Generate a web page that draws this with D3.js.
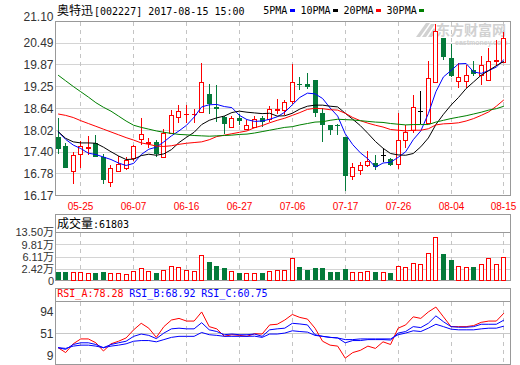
<!DOCTYPE html>
<html><head><meta charset="utf-8">
<script src="https://cdn.jsdelivr.net/npm/d3@7"></script>
<style>
html,body{margin:0;padding:0;background:#fff;}
svg{display:block;}
</style></head><body>
<svg id="c" width="520" height="365"></svg>
<script>
// ---------------- data ----------------
const dates = ["05-22","05-23","05-24","05-25","05-26","05-31","06-01","06-02","06-05","06-06",
 "06-07","06-08","06-09","06-12","06-13","06-14","06-15","06-16","06-19","06-20",
 "06-21","06-22","06-23","06-26","06-27","06-28","06-29","06-30","07-03","07-04",
 "07-05","07-06","07-07","07-10","07-11","07-12","07-13","07-14","07-17","07-18",
 "07-19","07-20","07-21","07-24","07-25","07-26","07-27","07-28","07-31","08-01",
 "08-02","08-03","08-04","08-07","08-08","08-09","08-10","08-11","08-14","08-15"];
const open = [17.82,17.57,16.86,17.36,17.52,17.65,17.27,16.54,16.87,16.96,
 17.22,17.76,17.67,17.69,17.27,17.93,18.40,18.47,18.47,18.53,
 19.05,18.69,18.40,18.12,18.37,18.05,18.12,18.38,18.33,18.60,
 18.59,18.85,19.33,19.33,19.44,18.51,18.17,18.17,17.83,16.72,
 16.90,17.04,17.09,17.32,17.20,17.07,17.75,18.03,18.57,18.22,
 19.39,20.64,20.07,19.41,19.41,19.74,19.59,19.44,19.98,19.95];
const high = [18.36,17.65,17.41,17.72,17.85,17.88,17.36,17.03,17.29,17.25,
 17.60,18.36,17.79,17.73,18.05,18.59,18.73,18.73,18.62,19.92,
 19.32,19.30,18.42,18.42,18.48,18.31,18.42,18.42,18.71,18.90,
 18.88,19.90,19.52,19.63,19.45,18.64,18.17,18.21,17.84,17.09,
 17.12,17.44,17.32,17.49,17.23,18.51,18.16,19.01,19.14,19.99,
 21.03,20.64,20.45,19.93,19.88,19.99,20.12,20.35,20.58,20.80];
const low = [17.36,16.94,16.49,16.95,17.31,17.26,16.51,16.41,16.86,16.89,
 17.15,17.60,17.53,17.27,17.22,17.90,18.22,18.22,18.23,18.51,
 18.48,18.26,17.91,18.08,18.17,18.04,18.10,18.12,18.26,18.48,
 18.45,18.76,19.16,19.20,18.40,17.69,17.88,17.88,16.30,16.60,
 16.74,16.99,16.90,17.12,17.00,16.93,17.53,17.94,18.19,18.22,
 19.38,20.02,19.54,19.22,19.22,19.55,19.31,19.41,19.83,19.94];
const close = [17.48,16.96,17.31,17.57,17.54,17.27,16.62,16.94,17.06,17.19,
 17.57,17.91,17.69,17.34,17.93,18.45,18.57,18.49,18.49,19.38,
 18.76,18.61,18.19,18.36,18.29,18.16,18.35,18.26,18.61,18.62,
 18.81,19.38,19.31,19.24,18.51,18.17,18.04,18.15,16.72,16.97,
 17.04,17.15,16.99,17.32,17.04,17.73,17.97,18.67,18.57,19.50,
 20.83,20.09,19.55,19.52,19.58,19.61,19.88,19.97,20.00,20.62];
const ma5 = [17.98,17.76,17.60,17.50,17.37,17.33,17.26,17.19,17.09,17.02,
 17.08,17.33,17.48,17.54,17.69,17.86,18.00,18.16,18.39,18.68,
 18.74,18.75,18.69,18.66,18.44,18.32,18.27,18.28,18.33,18.40,
 18.53,18.74,18.95,19.07,19.05,18.92,18.65,18.42,17.92,17.61,
 17.38,17.21,16.97,17.09,17.11,17.25,17.41,17.75,18.00,18.49,
 19.11,19.53,19.71,19.90,19.91,19.67,19.63,19.71,19.81,20.02];
const ma10 = [17.98,17.79,17.69,17.66,17.66,17.65,17.54,17.41,17.29,17.19,
 17.20,17.30,17.34,17.31,17.35,17.47,17.67,17.82,17.96,18.18,
 18.30,18.37,18.42,18.52,18.56,18.53,18.51,18.49,18.50,18.42,
 18.43,18.50,18.62,18.70,18.73,18.73,18.70,18.68,18.50,18.33,
 18.15,17.93,17.70,17.51,17.36,17.32,17.31,17.36,17.55,17.80,
 18.18,18.47,18.73,18.95,19.20,19.39,19.58,19.71,19.85,19.97];
const ma20 = [18.48,18.44,18.38,18.29,18.21,18.13,18.05,17.97,17.89,17.81,
 17.74,17.66,17.62,17.57,17.56,17.58,17.62,17.65,17.67,17.69,
 17.75,17.84,17.88,17.92,17.96,18.00,18.09,18.15,18.23,18.30,
 18.36,18.44,18.52,18.61,18.64,18.63,18.60,18.59,18.50,18.38,
 18.29,18.22,18.16,18.11,18.04,18.02,18.00,18.02,18.02,18.06,
 18.17,18.20,18.21,18.23,18.28,18.35,18.44,18.54,18.70,18.88];
const ma30 = [19.58,19.42,19.26,19.11,18.96,18.80,18.67,18.56,18.42,18.28,
 18.16,18.10,18.05,18.00,17.96,17.93,17.90,17.89,17.87,17.86,
 17.85,17.86,17.87,17.88,17.90,17.91,17.94,17.98,18.02,18.06,
 18.10,18.12,18.17,18.21,18.25,18.26,18.30,18.33,18.32,18.31,
 18.29,18.27,18.25,18.24,18.21,18.19,18.17,18.18,18.18,18.18,
 18.25,18.30,18.35,18.39,18.43,18.48,18.53,18.59,18.63,18.70];
// volume in 万 (10k lots)
const volume = [1.67,1.67,1.58,1.49,1.19,1.28,1.58,1.19,1.19,0.89,
 1.88,2.69,1.88,1.28,2.09,3.47,2.99,2.09,1.88,6.60,
 4.58,3.38,2.78,1.88,1.28,1.28,1.28,1.28,1.97,2.18,
 2.18,5.69,2.99,2.18,2.78,2.78,1.58,1.58,2.39,1.49,
 1.49,1.79,1.58,1.49,1.28,3.29,2.99,4.19,3.89,7.20,
 12.0,6.99,5.18,3.29,2.99,3.08,3.89,5.69,3.89,6.18];
const rsiA = [31.7,25.1,36.9,43.5,43.5,38.3,27.2,36.9,40.4,44.8,
 55.8,64.6,58.0,45.6,60.1,69.0,71.2,67.6,67.6,79.9,
 60.1,57.1,47.0,49.2,48.3,47.0,50.5,50.1,62.4,63.3,
 69.0,76.5,72.5,70.3,58.0,40.4,35.1,33.8,17.6,25.1,
 28.1,33.8,30.7,39.6,36.0,58.0,62.4,73.3,71.2,79.9,
 86.5,73.3,60.1,60.1,60.1,61.5,65.9,67.6,67.6,78.28];
const rsiB = [31.7,29.4,36.0,38.3,38.3,36.0,31.7,36.0,38.3,40.4,
 47.0,50.1,48.3,43.9,51.4,57.1,58.0,57.1,57.1,65.4,
 55.8,53.5,49.2,50.1,49.2,49.2,50.1,47.0,55.8,57.1,
 58.0,64.6,63.7,62.4,49.2,47.0,45.6,44.8,38.3,41.3,
 41.3,42.6,42.6,42.6,42.0,51.4,53.5,60.1,58.8,64.6,
 74.6,66.7,60.1,59.3,59.3,60.1,63.3,63.3,63.3,68.92];
const rsiC = [31.7,30.7,33.8,35.1,35.1,33.8,31.7,33.8,35.1,36.9,
 40.4,41.3,41.3,39.6,42.6,45.6,47.0,47.0,47.0,52.2,
 49.2,48.3,47.0,47.0,47.0,47.0,47.2,45.6,50.1,50.1,
 51.4,54.5,53.5,52.7,48.3,47.0,45.6,44.8,42.6,42.6,
 43.5,43.5,43.5,43.5,43.5,49.2,51.4,54.5,53.5,58.0,
 63.3,60.1,56.7,55.8,55.8,55.8,57.1,58.0,58.0,60.75];
const priceTicks = [21.10,20.49,19.87,19.25,18.64,18.02,17.40,16.78,16.17];
const volTicks = [13.50,9.81,6.11,2.42];
const rsiTicks = [94,51,9];
const dateTicks = ["05-25","06-07","06-16","06-27","07-06","07-17","07-26","08-04","08-15"];
const stockName = "奥特迅";
const stockInfo = "[002227] 2017-08-15 15:00";
const maNames = ["5PMA","10PMA","20PMA","30PMA"];
const maColors = ["#0000ff","#000000","#ff0000","#008000"];
const volTitle = "成交量";
const volLast = "61803";
const rsiNames = ["RSI_A","RSI_B","RSI_C"];
const rsiLast = [78.28,68.92,60.75];
const rsiColors = ["#ff0000","#0000ff","#0000ff"];

// ---------------- layout ----------------
const RED = "#ff0000", GREEN = "#047a3a";
const L = 55.5, R = 510.5;
const P = {top:21.5, bottom:195.5};
const V = {box:214.5, top:232.5, bottom:280.5};
const S = {box:288.5, top:301.5, bottom:364.5};
const MONO = "'DejaVu Sans Mono', monospace";
const CJK = "'Noto Sans CJK SC', sans-serif";
const SANS = "'Liberation Sans', Arial, 'Noto Sans CJK SC', sans-serif";

const svg = d3.select("#c");
const x = d3.scalePoint().domain(dates).range([57.6, 503.4]);
const cx = d => Math.round(x(d));
const yP = d3.scaleLinear().domain([16.17, 21.10]).range([P.bottom, P.top]);
const yV = d3.scaleLinear().domain([0, 13.5]).range([277.3, V.top]);
const yR = d3.scaleLinear().domain([9, 94]).range([S.bottom, S.top]);
const crisp = v => Math.floor(v) + 0.5;

const grid = svg.append("g").attr("shape-rendering","crispEdges");
grid.selectAll(null).data(priceTicks).join("line")
  .attr("x1",L).attr("x2",R).attr("y1",d=>crisp(yP(d))).attr("y2",d=>crisp(yP(d)))
  .attr("stroke","#d4d4d4");
grid.selectAll(null).data(volTicks).join("line")
  .attr("x1",L).attr("x2",R).attr("y1",d=>crisp(yV(d))).attr("y2",d=>crisp(yV(d)))
  .attr("stroke","#d4d4d4");
grid.append("line").attr("x1",L).attr("x2",R).attr("y1",crisp(yR(51))).attr("y2",crisp(yR(51)))
  .attr("stroke","#c8c8c8");
[[P.top,P.bottom],[V.top,V.bottom],[S.top,S.bottom]].forEach(([t,b])=>{
  grid.selectAll(null).data(dateTicks).join("line")
    .attr("x1",d=>cx(d)+0.5).attr("x2",d=>cx(d)+0.5).attr("y1",t).attr("y2",b)
    .attr("stroke","#c4c4c4").attr("stroke-dasharray","4,4");
});
const frame = svg.append("g").attr("shape-rendering","crispEdges").attr("fill","none").attr("stroke","#999");
frame.append("rect").attr("x",L).attr("y",P.top).attr("width",R-L).attr("height",P.bottom-P.top);
frame.append("rect").attr("x",L).attr("y",V.box).attr("width",R-L).attr("height",V.bottom-V.box);
frame.append("line").attr("x1",L).attr("x2",R).attr("y1",V.top).attr("y2",V.top);
frame.append("rect").attr("x",L).attr("y",S.box).attr("width",R-L).attr("height",S.bottom-S.box);
frame.append("line").attr("x1",L).attr("x2",R).attr("y1",S.top).attr("y2",S.top);

// watermark
const wm = svg.append("g").attr("fill","#c9c9c9").attr("opacity",0.85);
wm.append("path").attr("d","M416,37 L426,23 L430,23 L420,37 Z M422,37 L431,24 L435,24 L426,37 Z M428,37 L434,28 L436,31 L432,37 Z");
wm.append("text").attr("x",436).attr("y",34.5).attr("font-family",CJK).attr("font-weight","bold")
  .attr("font-size",14).text("东方财富网");
wm.append("text").attr("x",455).attr("y",45).attr("font-family",SANS).attr("font-weight","bold")
  .attr("font-size",7).text("eastmoney.com");

// candles
const cg = svg.append("g").attr("shape-rendering","crispEdges");
dates.forEach((d,i)=>{
  const c = cx(d);
  const o = open[i], cl = close[i];
  const yh = Math.round(yP(high[i])), yl = Math.round(yP(low[i]));
  const top = Math.round(yP(Math.max(o,cl))), bot = Math.round(yP(Math.min(o,cl)));
  if (cl > o) {
    if (bot - top >= 1) {
      cg.append("line").attr("x1",c+0.5).attr("x2",c+0.5).attr("y1",yh).attr("y2",top).attr("stroke",RED);
      cg.append("line").attr("x1",c+0.5).attr("x2",c+0.5).attr("y1",bot+1).attr("y2",yl).attr("stroke",RED);
      cg.append("rect").attr("x",c-1.5).attr("y",top+0.5).attr("width",4).attr("height",bot-top)
        .attr("fill","#fff").attr("stroke",RED);
    } else {
      cg.append("line").attr("x1",c+0.5).attr("x2",c+0.5).attr("y1",yh).attr("y2",yl).attr("stroke",RED);
      cg.append("line").attr("x1",c-2).attr("x2",c+3).attr("y1",top+0.5).attr("y2",top+0.5).attr("stroke",RED);
    }
  } else if (cl < o) {
    cg.append("line").attr("x1",c+0.5).attr("x2",c+0.5).attr("y1",yh).attr("y2",yl).attr("stroke",GREEN);
    cg.append("rect").attr("x",c-2).attr("y",top).attr("width",5).attr("height",Math.max(1,bot-top)).attr("fill",GREEN);
  } else {
    cg.append("line").attr("x1",c+0.5).attr("x2",c+0.5).attr("y1",yh).attr("y2",yl).attr("stroke","#000");
    cg.append("line").attr("x1",c-2).attr("x2",c+3).attr("y1",top+0.5).attr("y2",top+0.5).attr("stroke","#000");
  }
});

// moving averages
const ml = svg.append("g").attr("fill","none").attr("stroke-width",1);
[ma5,ma10,ma20,ma30].forEach((arr,k)=>{
  const line = d3.line().x((v,i)=>x(dates[i])+0.5).y(v=>yP(v));
  ml.append("path").attr("d",line(arr)).attr("stroke",maColors[k]);
});

// volume bars
const vg = svg.append("g").attr("shape-rendering","crispEdges");
volume.forEach((v,i)=>{
  const c = cx(dates[i]);
  const t = Math.round(yV(v));
  if (close[i] >= open[i]) {
    vg.append("rect").attr("x",c-1.5).attr("y",t+0.5).attr("width",4).attr("height",V.bottom-(t+0.5))
      .attr("fill","#fff").attr("stroke",RED);
  } else {
    vg.append("rect").attr("x",c-2).attr("y",t).attr("width",5).attr("height",V.bottom-0.5-t).attr("fill",GREEN);
  }
});

// RSI lines
const rg = svg.append("g").attr("fill","none");
[rsiA,rsiB,rsiC].forEach((arr,k)=>{
  const line = d3.line().x((v,i)=>x(dates[i])+0.5).y(v=>yR(v));
  rg.append("path").attr("d",line(arr)).attr("stroke",rsiColors[k]);
});

// ---------------- texts ----------------
const t = svg.append("g");
const tt = t.append("text").attr("x",57).attr("y",14.5).attr("fill","#000");
tt.append("tspan").attr("font-family",CJK).attr("font-size",12).text(stockName);
tt.append("tspan").attr("font-family",MONO).attr("font-size",10).attr("dx",1).text(stockInfo);
let lx = 263.3;
maNames.forEach((n,k)=>{
  t.append("text").attr("x",lx).attr("y",13.5).attr("font-family",MONO).attr("font-size",10).attr("fill","#000").text(n);
  lx += n.length*6.02 + 2.5;
  t.append("rect").attr("x",Math.round(lx)).attr("y",9).attr("width",5).attr("height",3).attr("fill",maColors[k]);
  lx += 5 + 5.5;
});
t.selectAll(null).data(priceTicks).join("text")
  .attr("x",53.5).attr("y",(d,i)=> i===0 ? yP(d)-5 : yP(d)).attr("dy","0.36em")
  .attr("text-anchor","end").attr("font-family",SANS).attr("font-size",12).attr("fill","#333")
  .text(d=>d.toFixed(2));
t.selectAll(null).data(dateTicks).join("text")
  .attr("x",d=>cx(d)+0.5).attr("y",209.5).attr("text-anchor","middle")
  .attr("font-family",SANS).attr("font-size",10).attr("fill",RED).text(d=>d);
const vt = t.append("text").attr("x",57).attr("y",228).attr("fill","#000");
vt.append("tspan").attr("font-family",CJK).attr("font-size",12).text(volTitle);
vt.append("tspan").attr("font-family",MONO).attr("font-size",10).text(":" + volLast);
t.selectAll(null).data(volTicks).join("text")
  .attr("x",54).attr("y",d=>yV(d)).attr("dy","0.36em").attr("text-anchor","end")
  .attr("font-family",SANS).attr("font-size",11).attr("fill","#333").text(d=>d.toFixed(2)+"万");
t.append("text").attr("x",54).attr("y",V.bottom+0.5).attr("dy","0.36em").attr("text-anchor","end")
  .attr("font-family",SANS).attr("font-size",11).attr("fill","#333").text("0");
rsiNames.forEach((n,k)=>{
  t.append("text").attr("x",57.3 + k*72).attr("y",297).attr("font-family",MONO).attr("font-size",10)
    .attr("fill",rsiColors[k]).text(n + ":" + rsiLast[k].toFixed(2));
});
t.selectAll(null).data(rsiTicks).join("text")
  .attr("x",53.5).attr("y",(d,i)=> i===0 ? yR(d)+10.2 : (i===2 ? yR(d)-8.8 : yR(d))).attr("dy","0.36em")
  .attr("text-anchor","end").attr("font-family",SANS).attr("font-size",12).attr("fill","#333").text(d=>d);
</script>
</body></html>
